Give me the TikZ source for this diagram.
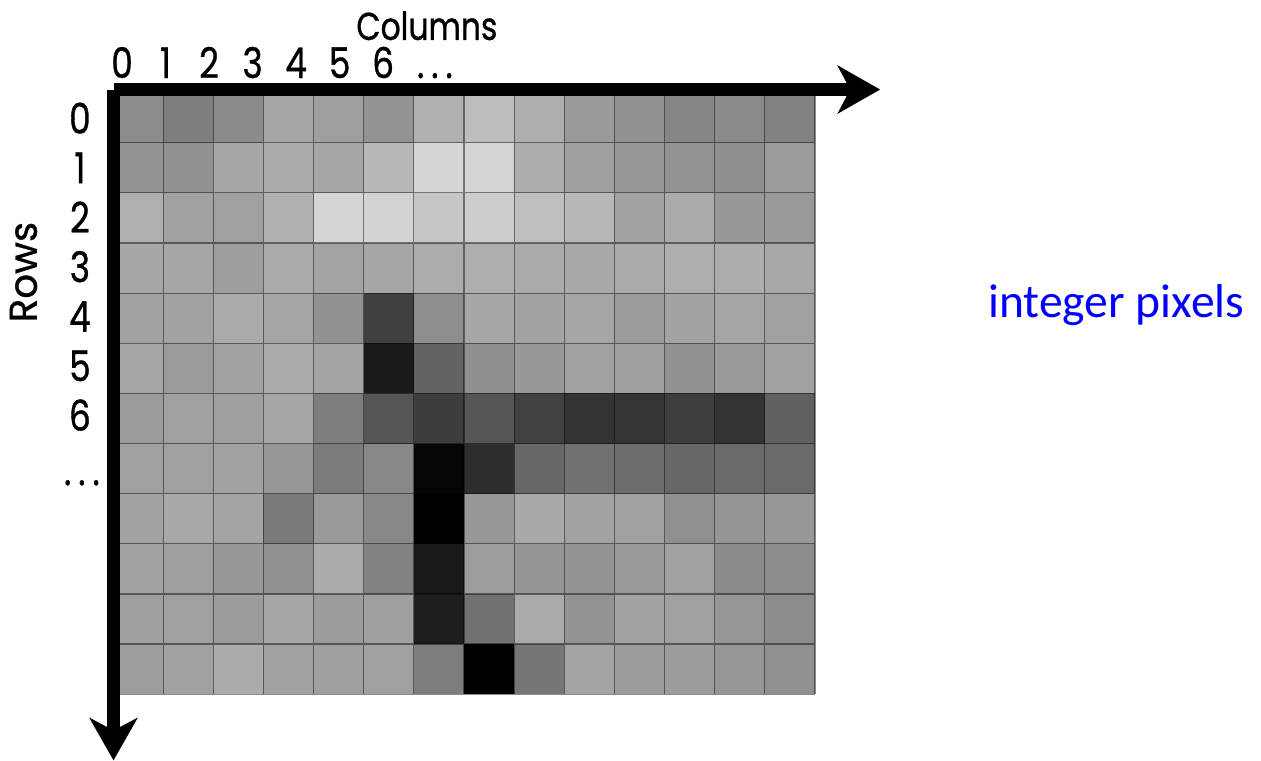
\documentclass[tikz,border=0pt]{standalone}
\usepackage{fontspec}
\newfontfamily\axisfont[FakeStretch=0.81, FakeBold=0.8]{Poppins}
\newfontfamily\titlefont[FakeBold=0.8]{Poppins}
\newfontfamily\notefont{Carlito}
\usetikzlibrary{arrows.meta}

\begin{document}
\begin{tikzpicture}[
  axis/.style={line width=7.4pt, -{Stealth[length=24pt, width=27pt, inset=7pt]}},
  gridline/.style={black, opacity=0.45, line width=0.7pt},
  tick/.style={font=\axisfont\fontsize{24}{24}\selectfont, anchor=base, inner sep=0pt},
  axistitle/.style={font=\axisfont\fontsize{22}{22}\selectfont, anchor=base, inner sep=0pt},
  note/.style={font=\notefont\fontsize{27}{27}\selectfont, text=blue,
    anchor=base west, inner sep=0pt}
]
  \useasboundingbox (-2.254,-13.323) rectangle (22.896,1.846);

  % === Pixel grid: one gray value per cell, row by row ===
  \foreach \vals [count=\r from 0] in {
    {140,126,139,165,159,147,177,189,174,154,146,134,138,130},
    {148,146,166,171,166,184,214,212,173,159,152,147,143,155},
    {175,162,160,176,213,211,198,204,191,184,163,170,152,154},
    {166,166,158,170,164,166,172,174,170,169,171,174,173,168},
    {162,162,171,165,146, 64,142,166,163,166,155,163,165,161},
    {166,155,162,170,164, 26, 99,143,152,160,159,146,153,161},
    {155,160,159,166,126, 85, 61, 85, 65, 51, 53, 62, 51, 97},
    {160,160,162,151,124,136,  5, 46,103,113,109,103,106,106},
    {162,168,164,122,154,136,  0,152,169,162,160,144,149,152},
    {162,159,152,144,171,130, 25,157,149,148,153,160,139,140},
    {159,160,156,166,156,159, 30,113,170,147,163,160,150,140},
    {157,161,171,161,159,160,125,  0,118,164,155,156,150,144}} {
    \foreach \g [count=\c from 0] in \vals {
      \definecolor{cellc}{RGB}{\g,\g,\g}
      \fill[cellc] (\c,-\r) rectangle ++(1,-1);
    }
  }
  \draw[gridline] (0,0) grid (14,-12);

  % === Axes ===
  \coordinate (origin) at (0.01,0.06);
  \coordinate (colend) at (15.3,0.06);
  \coordinate (rowend) at (0.01,-13.32);
  \draw[axis] (origin) -- (colend);
  \draw[axis] (origin) -- (rowend);

  % Column numbers
  \foreach \c in {0,...,6}
    \node[tick] (col\c) at ({0.18+0.868*\c},0.29) {\c};
  \node[tick] (colmore) at (6.42,0.29) {.\hspace{4pt}.\hspace{4pt}.};
  \node[axistitle] (columns) at (6.26,1.05) {Columns};

  % Row numbers
  \foreach \r in {0,...,6}
    \node[tick] (row\r) at (-0.66,{-0.82-0.987*\r}) {\r};
  \node[tick] (rowmore) at (-0.62,-7.83) {.\hspace{4pt}.\hspace{4pt}.};
  \node[axistitle, font=\titlefont\fontsize{22}{22}\selectfont, rotate=90]
    (rows) at (-1.52,-3.58) {Rows};

  % Note
  \node[note] (pixels) at (17.45,-4.48) {integer pixels};
\end{tikzpicture}
\end{document}
